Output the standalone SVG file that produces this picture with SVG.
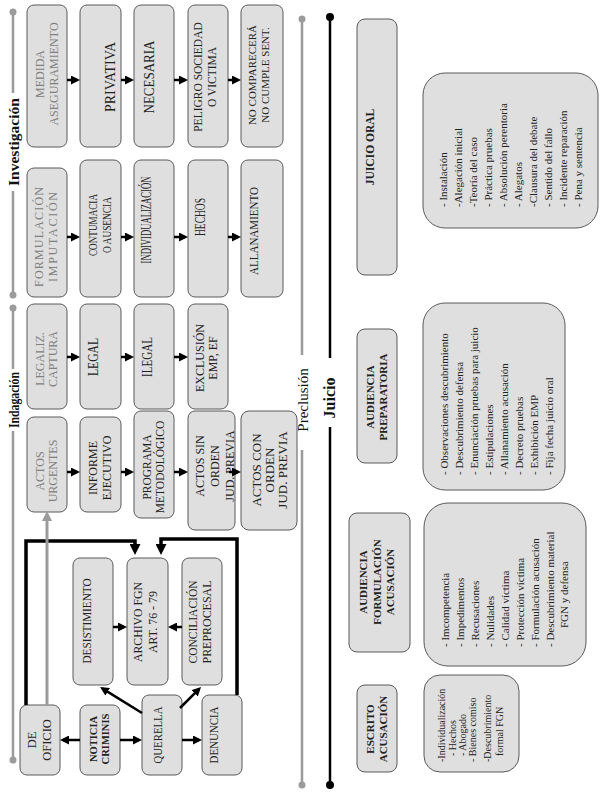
<svg xmlns="http://www.w3.org/2000/svg" width="610" height="793" viewBox="0 0 610 793">
<style>
.box{fill:#dfdfdf;stroke:#5a5a5a;stroke-width:1}
.t{font-family:"Liberation Serif","Times New Roman",serif;fill:#222;text-anchor:middle}
.g{fill:#808080}
.b{font-weight:bold}
.lst{font-family:"Liberation Serif","Times New Roman",serif;font-size:11px;fill:#222;text-anchor:start}
.l10{font-size:10px}
.sec{font-family:"Liberation Serif","Times New Roman",serif;fill:#111;text-anchor:middle}
.arr{stroke:#000;stroke-width:2.5;fill:none;marker-end:url(#ah)}
.thick{stroke:#000;stroke-width:3.5;fill:none;marker-end:url(#ah2)}
.garr{stroke:#9b9b9b;stroke-width:3;fill:none;marker-end:url(#gh)}
.gl{stroke:#9b9b9b;stroke-width:2.5;fill:none}
.bl{stroke:#000;stroke-width:2.5;fill:none}
</style>
<defs>
<marker id="ah" markerUnits="userSpaceOnUse" markerWidth="9" markerHeight="9" refX="6" refY="4.5" orient="auto"><path d="M0,0 L9,4.5 L0,9 z" fill="#000"/></marker>
<marker id="ah2" markerUnits="userSpaceOnUse" markerWidth="11" markerHeight="11" refX="7" refY="5.5" orient="auto"><path d="M0,0 L11,5.5 L0,11 z" fill="#000"/></marker>
<marker id="gh" markerUnits="userSpaceOnUse" markerWidth="10" markerHeight="10" refX="6" refY="5" orient="auto"><path d="M0,0 L10,5 L0,10 z" fill="#9b9b9b"/></marker>
</defs>

<g id="timelines">
<path class="gl" d="M13 12 V93 M13 191 V295 M13 308 V369 M13 431 V760"/>
<circle cx="13" cy="12" r="3.5" fill="#9b9b9b"/>
<circle cx="13" cy="295" r="3.5" fill="#9b9b9b"/>
<circle cx="13" cy="308" r="3.5" fill="#9b9b9b"/>
<circle cx="13" cy="760" r="3.5" fill="#9b9b9b"/>
<path class="gl" d="M302 19 V355 M302 450 V785"/>
<circle cx="302" cy="19" r="3.5" fill="#9b9b9b"/>
<circle cx="302" cy="785" r="3.5" fill="#9b9b9b"/>
<path class="bl" d="M330 17 V358 M330 427 V785"/>
<circle cx="330" cy="17" r="4" fill="#000"/>
<circle cx="330" cy="785" r="4" fill="#000"/>
<text class="sec b" font-size="15.5" transform="translate(19,142) rotate(-90)">Investigación</text>
<text class="sec b" font-size="15" textLength="56" lengthAdjust="spacingAndGlyphs" transform="translate(19,400) rotate(-90)">Indagación</text>
<text class="sec" font-size="15" transform="translate(308,400) rotate(-90)">Preclusión</text>
<text class="sec b" font-size="16" transform="translate(335,398) rotate(-90)">Juicio</text>
</g>

<g id="medida"><rect class="box" x="27" y="5" width="40" height="142" rx="7"/>
<text class="t g" font-size="12" transform="translate(44,74) rotate(-90)">MEDIDA</text>
<text class="t g" font-size="12" transform="translate(58,74) rotate(-90)">ASEGURAMIENTO</text></g>
<g id="privativa"><rect class="box" x="80" y="5" width="41" height="142" rx="7"/>
<text class="t" font-size="15" textLength="70" lengthAdjust="spacingAndGlyphs" transform="translate(115,77) rotate(-90)">PRIVATIVA</text></g>
<g id="necesaria"><rect class="box" x="134" y="5" width="40" height="142" rx="7"/>
<text class="t" font-size="15" textLength="73" lengthAdjust="spacingAndGlyphs" transform="translate(154,77) rotate(-90)">NECESARIA</text></g>
<g id="peligro"><rect class="box" x="188" y="5" width="40" height="142" rx="7"/>
<text class="t" font-size="11.5" transform="translate(202,77) rotate(-90)">PELIGRO SOCIEDAD</text>
<text class="t" font-size="11.5" transform="translate(216,77) rotate(-90)">O VICTIMA</text></g>
<g id="nocomparecera"><rect class="box" x="241" y="5" width="42" height="142" rx="7"/>
<text class="t" font-size="11" transform="translate(256,75) rotate(-90)">NO COMPARECERÁ</text>
<text class="t" font-size="11" transform="translate(269,75) rotate(-90)">NO CUMPLE SENT.</text></g>

<g id="formulacion"><rect class="box" x="27" y="168" width="40" height="129" rx="7"/>
<text class="t g" font-size="12" textLength="100" lengthAdjust="spacing" transform="translate(43,237) rotate(-90)">FORMULACIÓN</text>
<text class="t g" font-size="12" textLength="90" lengthAdjust="spacing" transform="translate(57,237) rotate(-90)">IMPUTACIÓN</text></g>
<g id="contumacia"><rect class="box" x="80" y="160" width="41" height="137" rx="7"/>
<text class="t" font-size="13" textLength="62" lengthAdjust="spacingAndGlyphs" transform="translate(97,225) rotate(-90)">CONTUMACIA</text>
<text class="t" font-size="13" textLength="56" lengthAdjust="spacingAndGlyphs" transform="translate(111,225) rotate(-90)">O AUSENCIA</text></g>
<g id="individualizacion"><rect class="box" x="134" y="160" width="40" height="137" rx="7"/>
<text class="t" font-size="15" textLength="87" lengthAdjust="spacingAndGlyphs" transform="translate(151,220) rotate(-90)">INDIVIDUALIZACIÓN</text></g>
<g id="hechos"><rect class="box" x="188" y="160" width="40" height="137" rx="7"/>
<text class="t" font-size="14" textLength="38" lengthAdjust="spacingAndGlyphs" transform="translate(205,217) rotate(-90)">HECHOS</text></g>
<g id="allanamiento"><rect class="box" x="241" y="160" width="42" height="137" rx="7"/>
<text class="t" font-size="13" textLength="88" lengthAdjust="spacingAndGlyphs" transform="translate(258,231) rotate(-90)">ALLANAMIENTO</text></g>

<g id="legaliz"><rect class="box" x="27" y="304" width="40" height="105" rx="7"/>
<text class="t g" font-size="12" transform="translate(44,359) rotate(-90)">LEGALIZ.</text>
<text class="t g" font-size="12" transform="translate(57,359) rotate(-90)">CAPTURA</text></g>
<g id="legal"><rect class="box" x="80" y="304" width="41" height="105" rx="7"/>
<text class="t" font-size="14" textLength="38" lengthAdjust="spacingAndGlyphs" transform="translate(98,357) rotate(-90)">LEGAL</text></g>
<g id="ilegal"><rect class="box" x="134" y="304" width="40" height="105" rx="7"/>
<text class="t" font-size="14" textLength="40" lengthAdjust="spacingAndGlyphs" transform="translate(152,357) rotate(-90)">ILEGAL</text></g>
<g id="exclusion"><rect class="box" x="188" y="304" width="40" height="105" rx="7"/>
<text class="t" font-size="12" transform="translate(204,358) rotate(-90)">EXCLUSIÓN</text>
<text class="t" font-size="12" transform="translate(217,358) rotate(-90)">EMP, EF</text></g>

<g id="actosurgentes"><rect class="box" x="27" y="417" width="40" height="95" rx="7"/>
<text class="t g" font-size="12" transform="translate(44,471) rotate(-90)">ACTOS</text>
<text class="t g" font-size="12" transform="translate(57,471) rotate(-90)">URGENTES</text></g>
<g id="informe"><rect class="box" x="80" y="417" width="41" height="95" rx="7"/>
<text class="t" font-size="12" transform="translate(97,468) rotate(-90)">INFORME</text>
<text class="t" font-size="12" transform="translate(111,468) rotate(-90)">EJECUTIVO</text></g>
<g id="programa"><rect class="box" x="134" y="411" width="40" height="107" rx="7"/>
<text class="t" font-size="11.5" transform="translate(151,467) rotate(-90)">PROGRAMA</text>
<text class="t" font-size="11.5" transform="translate(164,467) rotate(-90)">METODOLÓGICO</text></g>
<g id="actossin"><rect class="box" x="188" y="411" width="47" height="119" rx="7"/>
<text class="t" font-size="12" transform="translate(204,466) rotate(-90)">ACTOS SIN</text>
<text class="t" font-size="12" transform="translate(219,466) rotate(-90)">ORDEN</text>
<text class="t" font-size="12" transform="translate(234,466) rotate(-90)">JUD. PREVIA</text></g>
<g id="actoscon"><rect class="box" x="241" y="411" width="56" height="119" rx="8"/>
<text class="t" font-size="13" transform="translate(261,470) rotate(-90)">ACTOS CON</text>
<text class="t" font-size="13" transform="translate(274,470) rotate(-90)">ORDEN</text>
<text class="t" font-size="13" transform="translate(287,470) rotate(-90)">JUD. PREVIA</text></g>

<g id="desistimiento"><rect class="box" x="73" y="558" width="40" height="127" rx="7"/>
<text class="t" font-size="13" textLength="85" lengthAdjust="spacingAndGlyphs" transform="translate(91,621) rotate(-90)">DESISTIMIENTO</text></g>
<g id="archivo"><rect class="box" x="127" y="558" width="41" height="127" rx="7"/>
<text class="t" font-size="12.5" textLength="80" lengthAdjust="spacingAndGlyphs" transform="translate(142,622) rotate(-90)">ARCHIVO FGN</text>
<text class="t" font-size="12.5" textLength="62" lengthAdjust="spacingAndGlyphs" transform="translate(157,622) rotate(-90)">ART. 76 - 79</text></g>
<g id="conciliacion"><rect class="box" x="182" y="558" width="40" height="127" rx="7"/>
<text class="t" font-size="12.5" textLength="83" lengthAdjust="spacingAndGlyphs" transform="translate(197,622) rotate(-90)">CONCILIACIÓN</text>
<text class="t" font-size="12.5" textLength="83" lengthAdjust="spacingAndGlyphs" transform="translate(211,622) rotate(-90)">PREPROCESAL</text></g>

<g id="deoficio"><rect class="box" x="20" y="705" width="40" height="70" rx="7"/>
<text class="t" font-size="12.5" transform="translate(36,740) rotate(-90)">DE</text>
<text class="t" font-size="12.5" transform="translate(51,740) rotate(-90)">OFICIO</text></g>
<g id="noticia"><rect class="box" x="80" y="705" width="40" height="70" rx="7"/>
<text class="t b" font-size="10.5" transform="translate(96.5,739) rotate(-90)">NOTICIA</text>
<text class="t b" font-size="10.5" transform="translate(108.5,739) rotate(-90)">CRIMINIS</text></g>
<g id="querella"><rect class="box" x="142" y="695" width="40" height="80" rx="7"/>
<text class="t" font-size="13" textLength="57" lengthAdjust="spacingAndGlyphs" transform="translate(162,735) rotate(-90)">QUERELLA</text></g>
<g id="denuncia"><rect class="box" x="202" y="695" width="40" height="80" rx="7"/>
<text class="t" font-size="13" textLength="57" lengthAdjust="spacingAndGlyphs" transform="translate(218,735) rotate(-90)">DENUNCIA</text></g>

<g id="juiciooral"><rect class="box" x="357" y="19" width="40" height="256" rx="8"/>
<text class="t b" font-size="11.5" transform="translate(374,147) rotate(-90)">JUICIO ORAL</text></g>
<g id="juiciooral-lista"><rect class="box" x="423" y="73" width="175" height="155" rx="22"/>
<text class="lst" transform="translate(447,207) rotate(-90)">- Instalación</text>
<text class="lst" transform="translate(462,207) rotate(-90)">-Alegación inicial</text>
<text class="lst" transform="translate(477,207) rotate(-90)">-Teoría del caso</text>
<text class="lst" transform="translate(492,207) rotate(-90)">- Práctica pruebas</text>
<text class="lst" transform="translate(507,207) rotate(-90)">- Absolución perentoria</text>
<text class="lst" transform="translate(522,207) rotate(-90)">- Alegatos</text>
<text class="lst" transform="translate(537,207) rotate(-90)">-Clausura del debate</text>
<text class="lst" transform="translate(552,207) rotate(-90)">- Sentido del fallo</text>
<text class="lst" transform="translate(567,207) rotate(-90)">- Incidente reparación</text>
<text class="lst" transform="translate(582,207) rotate(-90)">- Pena y sentencia</text></g>

<g id="audprep"><rect class="box" x="357" y="329" width="40" height="134" rx="8"/>
<text class="t b" font-size="11" transform="translate(374,397) rotate(-90)">AUDIENCIA</text>
<text class="t b" font-size="11" transform="translate(387,397) rotate(-90)">PREPARATORIA</text></g>
<g id="audprep-lista"><rect class="box" x="423" y="303" width="142" height="187" rx="22"/>
<text class="lst" transform="translate(447.5,475) rotate(-90)">- Observaciones descubrimiento</text>
<text class="lst" transform="translate(462.5,475) rotate(-90)">- Descubrimiento defensa</text>
<text class="lst" transform="translate(477.5,475) rotate(-90)">- Enunciación pruebas para juicio</text>
<text class="lst" transform="translate(492.5,475) rotate(-90)">- Estipulaciones</text>
<text class="lst" transform="translate(507.5,475) rotate(-90)">- Allanamiento acusación</text>
<text class="lst" transform="translate(522.5,475) rotate(-90)">- Decreto pruebas</text>
<text class="lst" transform="translate(537.5,475) rotate(-90)">- Exhibición EMP</text>
<text class="lst" transform="translate(552.5,475) rotate(-90)">- Fija fecha juicio oral</text></g>

<g id="audform"><rect class="box" x="349" y="513" width="61" height="139" rx="8"/>
<text class="t b" font-size="11" transform="translate(367,582) rotate(-90)">AUDIENCIA</text>
<text class="t b" font-size="11" transform="translate(381,582) rotate(-90)">FORMULACIÓN</text>
<text class="t b" font-size="11" transform="translate(394,582) rotate(-90)">ACUSACIÓN</text></g>
<g id="audform-lista"><rect class="box" x="424" y="503" width="162" height="163" rx="24"/>
<text class="lst" transform="translate(448.5,647) rotate(-90)">- Imcompetencia</text>
<text class="lst" transform="translate(463.5,647) rotate(-90)">- Impedimentos</text>
<text class="lst" transform="translate(478.5,647) rotate(-90)">- Recusaciones</text>
<text class="lst" transform="translate(493.5,647) rotate(-90)">- Nulidades</text>
<text class="lst" transform="translate(508.5,647) rotate(-90)">- Calidad víctima</text>
<text class="lst" transform="translate(523.5,647) rotate(-90)">- Protección víctima</text>
<text class="lst" transform="translate(538.5,647) rotate(-90)">- Formulación acusación</text>
<text class="lst" transform="translate(553.5,647) rotate(-90)">- Descubrimiento material</text>
<text class="lst" transform="translate(567.5,628) rotate(-90)">FGN y defensa</text></g>

<g id="escrito"><rect class="box" x="357" y="685" width="40" height="87" rx="8"/>
<text class="t b" font-size="11" transform="translate(374,729) rotate(-90)">ESCRITO</text>
<text class="t b" font-size="11" transform="translate(387,729) rotate(-90)">ACUSACIÓN</text></g>
<g id="escrito-lista"><rect class="box" x="424" y="675" width="95" height="97" rx="16"/>
<text class="lst l10" transform="translate(445,762) rotate(-90)">-Individualización</text>
<text class="lst l10" transform="translate(456,756) rotate(-90)">- Hechos</text>
<text class="lst l10" transform="translate(466,756) rotate(-90)">- Abogado</text>
<text class="lst l10" transform="translate(476,762) rotate(-90)">- Bienes comiso</text>
<text class="lst l10" transform="translate(491,762) rotate(-90)">-Descubrimiento</text>
<text class="lst l10" transform="translate(503,756) rotate(-90)">formal FGN</text></g>

<g id="connectors">
<path class="arr" d="M67 80 H77"/>
<path class="arr" d="M121 80 H131"/>
<path class="arr" d="M174 80 H185"/>
<path class="arr" d="M228 80 H238"/>
<path class="arr" d="M67 237 H77"/>
<path class="arr" d="M121 237 H131"/>
<path class="arr" d="M174 237 H185"/>
<path class="arr" d="M228 237 H238"/>
<path class="arr" d="M67 357 H77"/>
<path class="arr" d="M121 357 H131"/>
<path class="arr" d="M174 357 H185"/>
<path class="arr" d="M67 472 H77"/>
<path class="arr" d="M121 472 H131"/>
<path class="arr" d="M174 472 H185"/>
<path class="arr" d="M229 472 H238"/>
<path class="arr" d="M80 740 H63"/>
<path class="arr" d="M120 740 H139"/>
<path class="arr" d="M182 740 H199"/>
<path class="arr" d="M113 627 H124"/>
<path class="arr" d="M182 627 H171"/>
<path class="arr" d="M142 713 L102.6 688.6"/>
<path class="arr" d="M180 708 L198.9 689.1"/>
<path class="thick" d="M26 705 V541 H135 V551"/>
<path class="thick" d="M237 695 V539 H161 V551"/>
<path class="garr" d="M47 705 V515"/>
</g>
</svg>
